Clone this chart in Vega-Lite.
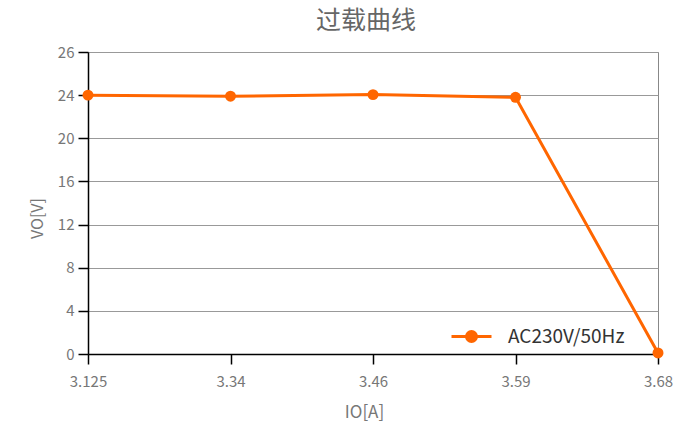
{
  "$schema": "https://vega.github.io/schema/vega-lite/v6.json",
  "autosize": "none",
  "width": 570,
  "height": 302,
  "padding": {"left": 88, "top": 52, "right": 17, "bottom": 69},
  "background": "white",
  "title": {
    "text": "过载曲线",
    "font": "Noto Sans CJK SC",
    "fontSize": 25,
    "fontWeight": "normal",
    "color": "#666666",
    "anchor": "middle",
    "baseline": "middle",
    "offset": -1,
    "dx": -7,
    "frame": "group"
  },
  "config": {
    "font": "Noto Sans CJK SC",
    "view": {"stroke": "#888888", "strokeWidth": 1}
  },
  "data": {
    "values": [
      {"io": "3.125", "vo": 24.0, "series": "AC230V/50Hz"},
      {"io": "3.34", "vo": 23.9, "series": "AC230V/50Hz"},
      {"io": "3.46", "vo": 24.05, "series": "AC230V/50Hz"},
      {"io": "3.59", "vo": 23.8, "series": "AC230V/50Hz"},
      {"io": "3.68", "vo": 0.1, "series": "AC230V/50Hz"}
    ]
  },
  "encoding": {
    "x": {
      "field": "io",
      "type": "ordinal",
      "sort": null,
      "scale": {"type": "point", "padding": 0},
      "axis": {
        "title": "IO[A]",
        "titleFont": "Noto Sans CJK SC",
        "titleFontSize": 17,
        "titleFontWeight": "normal",
        "titleColor": "#777777",
        "titleX": 276,
        "titleY": 58,
        "titleAlign": "center",
        "titleBaseline": "middle",
        "labelAngle": 0,
        "labelFontSize": 15,
        "labelColor": "#777777",
        "labelPadding": 10,
        "tickSize": 10,
        "tickColor": "#000000",
        "domainColor": "#000000",
        "domainWidth": 1.5,
        "tickWidth": 1.5,
        "grid": false
      }
    },
    "y": {
      "field": "vo",
      "type": "quantitative",
      "scale": {"domain": [0, 28], "nice": false},
      "axis": {
        "title": "VO[V]",
        "titleFont": "Noto Sans CJK SC",
        "titleFontSize": 16,
        "titleFontWeight": "normal",
        "titleColor": "#777777",
        "titleX": -51,
        "titleY": 166,
        "titleAlign": "center",
        "titleBaseline": "middle",
        "values": [0, 4, 8, 12, 16, 20, 24, 28],
        "labelExpr": "datum.value == 28 ? '26' : datum.label",
        "labelFontSize": 15,
        "labelColor": "#777777",
        "labelPadding": 4,
        "tickSize": 10,
        "tickColor": "#000000",
        "tickWidth": 1.5,
        "domainColor": "#000000",
        "domainWidth": 1.5,
        "grid": true,
        "gridColor": "#999999",
        "gridWidth": 1
      }
    },
    "color": {
      "field": "series",
      "type": "nominal",
      "scale": {"range": ["#ff6600"]},
      "legend": {
        "title": null,
        "orient": "none",
        "legendX": 362,
        "legendY": 263,
        "symbolType": "M-1,0H1M-0.25,0A0.25,0.25,0,1,1,0.25,0A0.25,0.25,0,1,1,-0.25,0",
        "symbolSize": 1600,
        "symbolStrokeWidth": 3,
        "symbolFillColor": "#ff6600",
        "symbolStrokeColor": "#ff6600",
        "labelFontSize": 19,
        "labelColor": "#333333",
        "labelOffset": 15,
        "labelFont": "Noto Sans CJK SC"
      }
    }
  },
  "layer": [
    {"mark": {"type": "line", "strokeWidth": 3}},
    {"mark": {"type": "point", "filled": true, "size": 120, "opacity": 1}}
  ]
}
